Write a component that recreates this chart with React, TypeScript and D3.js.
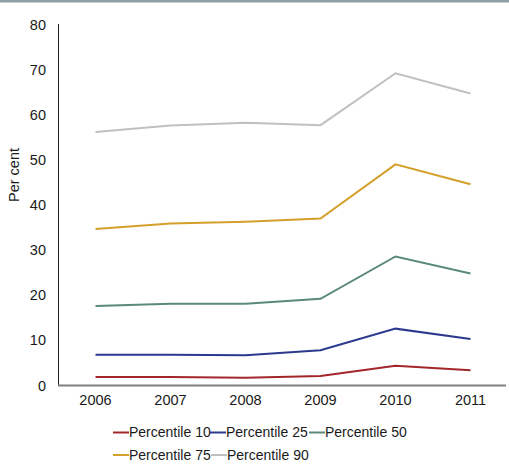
import React from "react";
import * as d3 from "d3";

const years = ["2006", "2007", "2008", "2009", "2010", "2011"];
const p10 = [1.9, 1.9, 1.7, 2.1, 4.4, 3.4];
const p25 = [6.8, 6.8, 6.7, 7.8, 12.6, 10.3];
const p50 = [17.6, 18.1, 18.1, 19.2, 28.6, 24.8];
const p75 = [34.7, 35.9, 36.3, 37.0, 49.0, 44.6];
const p90 = [56.2, 57.6, 58.2, 57.7, 69.2, 64.7];
const yTicks = [0, 10, 20, 30, 40, 50, 60, 70, 80];

const seriesNames = ["Percentile 10", "Percentile 25", "Percentile 50", "Percentile 75", "Percentile 90"];
const seriesValues = [p10, p25, p50, p75, p90];
const seriesColors = ["#a3262a", "#2b3a8f", "#5b8a78", "#d4a02a", "#c0c0c0"];

const W = 509;
const H = 473;
const FONT = "'Liberation Sans', Arial, sans-serif";

export default function App() {
  const x = d3.scaleBand<string>().domain(years).range([58, 508]);
  const y = d3.scaleLinear().domain([0, 80]).range([385.5, 24.5]);
  const line = d3
    .line<number>()
    .x((_, i) => (x(years[i]) as number) + x.bandwidth() / 2)
    .y((d) => y(d));

  // legend slots: [row, x]
  const legendPos: [number, number][] = [
    [432.5, 113],
    [432.5, 210],
    [432.5, 309],
    [455, 113],
    [455, 211],
  ];

  return (
    <div style={{ position: "absolute", left: 0, top: 0 }}>
      <svg width={W} height={H} style={{ display: "block", fontFamily: FONT }}>
        <rect x={0} y={0} width={W} height={H} fill="#ffffff" />
        <rect x={0} y={0} width={W} height={2.5} fill="#8c9fa4" />

        {/* y axis */}
        <line x1={58.5} x2={58.5} y1={24} y2={386} stroke="#1a1a1a" strokeWidth={1} />
        {yTicks.map((t) => (
          <text key={t} x={46} y={y(t)} dy="0.35em" textAnchor="end" fontSize={14.5} fill="#1a1a1a">
            {t}
          </text>
        ))}
        <text
          transform={`translate(19,175) rotate(-90)`}
          textAnchor="middle"
          fontSize={14.5}
          fill="#1a1a1a"
        >
          Per cent
        </text>

        {/* series */}
        {seriesValues.map((vals, i) => (
          <path key={i} d={line(vals) as string} fill="none" stroke={seriesColors[i]} strokeWidth={2} />
        ))}

        {/* x axis */}
        <line x1={58} x2={506} y1={385.5} y2={385.5} stroke="#808080" strokeWidth={2} />
        {years.map((yr) => (
          <text
            key={yr}
            x={(x(yr) as number) + x.bandwidth() / 2}
            y={400}
            dy="0.35em"
            textAnchor="middle"
            fontSize={14.5}
            fill="#1a1a1a"
          >
            {yr}
          </text>
        ))}

        {/* legend */}
        {seriesNames.map((name, i) => {
          const [ly, lx] = legendPos[i];
          return (
            <g key={name}>
              <line x1={lx} x2={lx + 16} y1={ly} y2={ly} stroke={seriesColors[i]} strokeWidth={2} />
              <text x={lx + 16} y={ly} dy="0.35em" fontSize={14} fill="#1a1a1a">
                {name}
              </text>
            </g>
          );
        })}
      </svg>
    </div>
  );
}
